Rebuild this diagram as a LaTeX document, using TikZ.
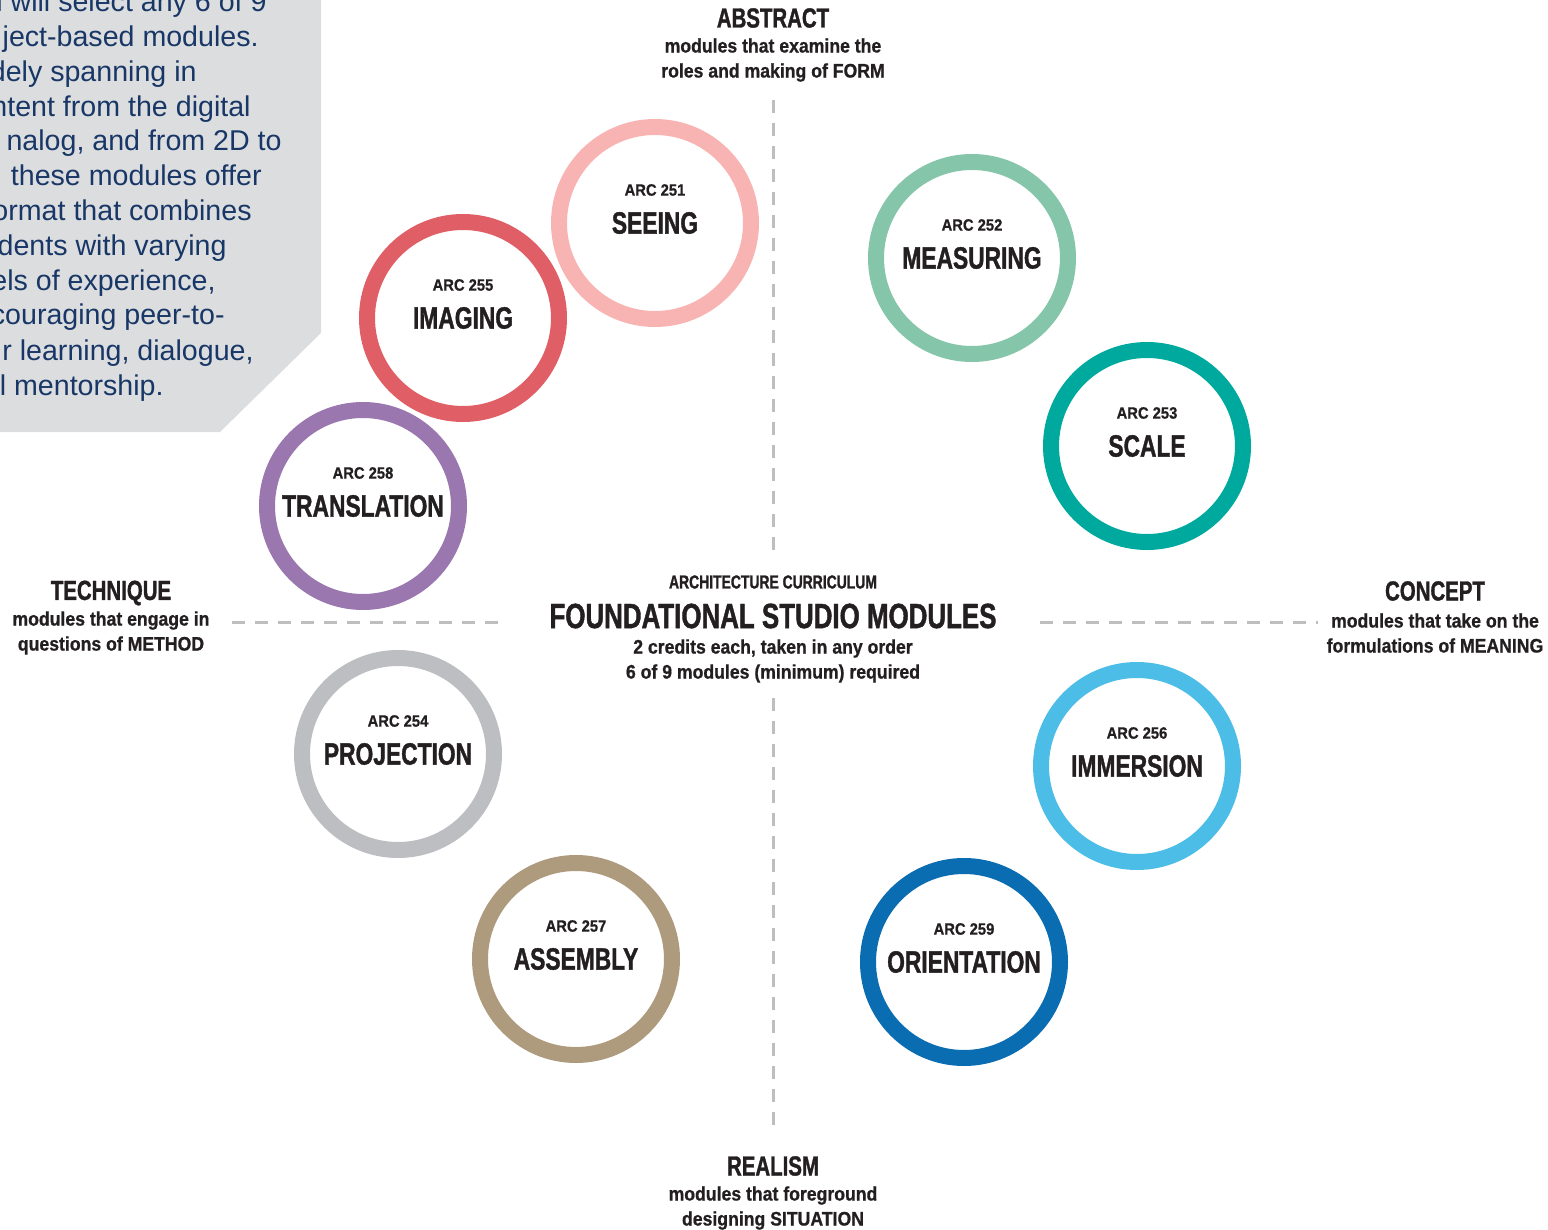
\documentclass[tikz,border=0pt]{standalone}
\usepackage{fontspec}
\usepackage{xcolor}
\setmainfont{Liberation Sans}
\newfontfamily\capsfont[FakeStretch=0.74,FakeBold=1.2]{Liberation Sans}
\newfontfamily\lowfont[FakeStretch=0.9,FakeBold=0.8]{Liberation Sans}

\definecolor{inkc}{RGB}{35,31,32}
\definecolor{navyc}{RGB}{24,55,102}
\definecolor{boxgray}{RGB}{220,221,223}
\definecolor{axisgray}{RGB}{190,190,192}
\definecolor{seeingc}{RGB}{248,180,178}
\definecolor{imagingc}{RGB}{224,94,102}
\definecolor{translationc}{RGB}{154,119,175}
\definecolor{measuringc}{RGB}{133,197,169}
\definecolor{scalec}{RGB}{0,169,157}
\definecolor{projectionc}{RGB}{189,190,194}
\definecolor{assemblyc}{RGB}{174,155,126}
\definecolor{immersionc}{RGB}{75,189,231}
\definecolor{orientationc}{RGB}{11,109,177}

\tikzset{
  modulering/.style={circle, draw=#1, line width=8pt, minimum size=96pt, inner sep=0pt},
  modulecode/.style={text=inkc, inner sep=0pt, font=\lowfont\bfseries\fontsize{8.2}{10}\selectfont},
  modulename/.style={text=inkc, inner sep=0pt, font=\capsfont\bfseries\fontsize{15.4}{17}\selectfont},
  axistitle/.style={text=inkc, inner sep=0pt, font=\capsfont\bfseries\fontsize{13.8}{15}\selectfont},
  axistext/.style={text=inkc, inner sep=0pt, align=center, font=\lowfont\bfseries\fontsize{9.8}{12.5}\selectfont},
  axisline/.style={draw=axisgray, line width=1.5pt, dash pattern=on 6.5pt off 5pt},
  introtext/.style={text=navyc, inner sep=0pt, anchor=base east, font=\fontsize{14.3}{17}\selectfont}
}

\begin{document}
\begin{tikzpicture}[x=0.5pt,y=0.5pt,yscale=-1,xscale=1]
\clip (0,0) rectangle (1548,1230);

%Shape: Polygon
\fill [boxgray] (-10,-10) -- (321,-10) -- (321,333) -- (220,432) -- (-10,432) -- cycle ;

% Text Node
\node [introtext] (intro1) at (267,12) {l will select any 6 of 9};
\node [introtext] (intro2) at (259,47) {ject-based modules.};
\node [introtext] (intro3) at (197,82) {dely spanning in};
\node [introtext] (intro4) at (251,117) {ntent from the digital};
\node [introtext] (intro5) at (282,151) {nalog, and from 2D to};
\node [introtext] (intro6) at (262,186) {these modules offer};
\node [introtext] (intro7) at (252,221) {ormat that combines};
\node [introtext] (intro8) at (227,256) {dents with varying};
\node [introtext] (intro9) at (216,291) {els of experience,};
\node [introtext] (intro10) at (225,325) {couraging peer-to-};
\node [introtext] (intro11) at (254,360) {r learning, dialogue,};
\node [introtext] (intro12) at (164,395) {l mentorship.};

%Straight Lines
\coordinate (axtop) at (773,100);
\coordinate (axtopend) at (773,552);
\coordinate (axbot) at (773,698);
\coordinate (axbotend) at (773,1133);
\coordinate (axleft) at (232,622);
\coordinate (axleftend) at (505,622);
\coordinate (axright) at (1040,622);
\coordinate (axrightend) at (1318,622);
\draw [axisline] (axtop) -- (axtopend) ;
\draw [axisline] (axbot) -- (axbotend) ;
\draw [axisline] (axleft) -- (axleftend) ;
\draw [axisline] (axright) -- (axrightend) ;

%Shape: Circle
\node [modulering=seeingc] (seeing) at (655,223) {};
\node [modulering=imagingc] (imaging) at (463,318) {};
\node [modulering=translationc] (translation) at (363,506) {};
\node [modulering=measuringc] (measuring) at (972,258) {};
\node [modulering=scalec] (scale) at (1147,446) {};
\node [modulering=projectionc] (projection) at (398,754) {};
\node [modulering=assemblyc] (assembly) at (576,959) {};
\node [modulering=immersionc] (immersion) at (1137,766) {};
\node [modulering=orientationc] (orientation) at (964,962) {};

% Text Node
\path (seeing) ++(0,-33) node [modulecode] (seeingcode) {ARC 251};
\node [modulename] (seeingname) at (seeing) {SEEING};
\path (imaging) ++(0,-33) node [modulecode] (imagingcode) {ARC 255};
\node [modulename] (imagingname) at (imaging) {IMAGING};
\path (translation) ++(0,-33) node [modulecode] (translationcode) {ARC 258};
\node [modulename] (translationname) at (translation) {TRANSLATION};
\path (measuring) ++(0,-33) node [modulecode] (measuringcode) {ARC 252};
\node [modulename] (measuringname) at (measuring) {MEASURING};
\path (scale) ++(0,-33) node [modulecode] (scalecode) {ARC 253};
\node [modulename] (scalename) at (scale) {SCALE};
\path (projection) ++(0,-33) node [modulecode] (projectioncode) {ARC 254};
\node [modulename] (projectionname) at (projection) {PROJECTION};
\path (assembly) ++(0,-33) node [modulecode] (assemblycode) {ARC 257};
\node [modulename] (assemblyname) at (assembly) {ASSEMBLY};
\path (immersion) ++(0,-33) node [modulecode] (immersioncode) {ARC 256};
\node [modulename] (immersionname) at (immersion) {IMMERSION};
\path (orientation) ++(0,-33) node [modulecode] (orientationcode) {ARC 259};
\node [modulename] (orientationname) at (orientation) {ORIENTATION};

% Text Node
\node [axistitle] (abstract) at (773,18) {ABSTRACT};
\node [axistext] (abstracttext) at (773,60) {modules that examine the\\roles and making of FORM};
\node [axistitle] (technique) at (111,593) {TECHNIQUE};
\node [axistext] (techniquetext) at (111,633) {modules that engage in\\questions of METHOD};
\node [axistitle] (concept) at (1435,591) {CONCEPT};
\node [axistext] (concepttext) at (1435,633) {modules that take on the\\formulations of MEANING};
\node [axistitle] (realism) at (773,1166) {REALISM};
\node [axistext] (realismtext) at (773,1208) {modules that foreground\\designing SITUATION};

% Text Node
\node [text=inkc, inner sep=0pt, font=\capsfont\bfseries\fontsize{9.4}{11}\selectfont] (curriculum) at (773,582) {ARCHITECTURE CURRICULUM};
\node [text=inkc, inner sep=0pt, font=\capsfont\bfseries\fontsize{17.5}{20}\selectfont] (foundational) at (773,616) {FOUNDATIONAL STUDIO MODULES};
\node [axistext] (credits) at (773,661) {2 credits each, taken in any order\\6 of 9 modules (minimum) required};
\end{tikzpicture}
\end{document}
